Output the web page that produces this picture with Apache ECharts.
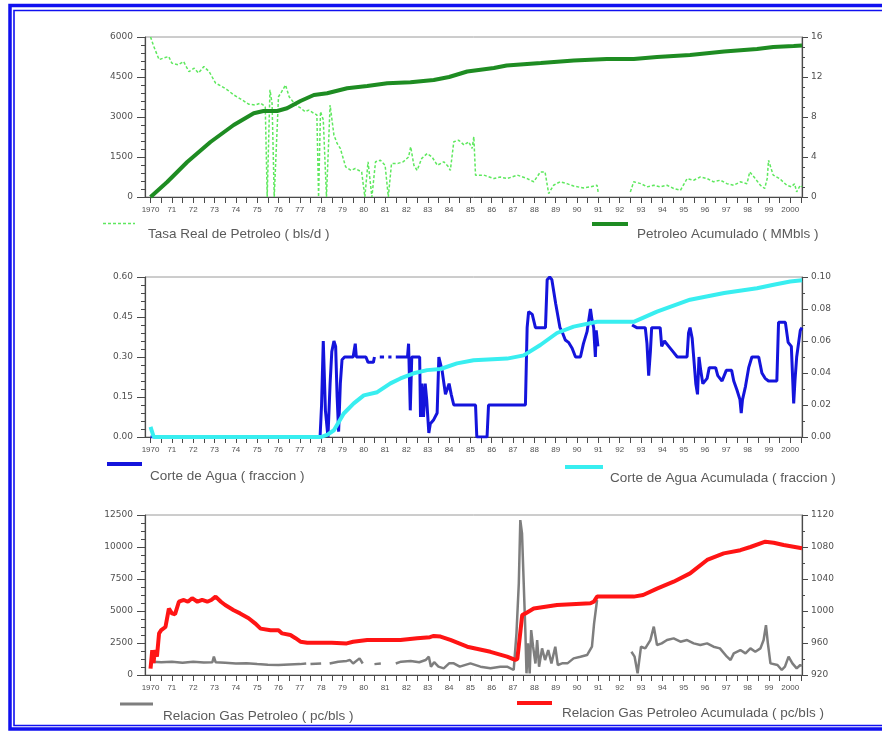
<!DOCTYPE html>
<html>
<head>
<meta charset="utf-8">
<title>Historia de produccion 1970-2000</title>
<script src="https://cdn.jsdelivr.net/npm/echarts@6/dist/echarts.min.js"></script>
<style>
  html, body { margin: 0; padding: 0; background: #fff; }
  #chart { width: 882px; height: 731px; }
</style>
</head>
<body>
<div id="chart"></div>
<script>
// ---- Years on the shared time axis ----
const years = [];
for (let y = 1970; y <= 2000; y++) years.push(y);
const halfYears = [];
for (let y = 1970; y <= 2000.5; y += 0.5) halfYears.push(y);

// ---- Tasa Real de Petroleo (bls/d), left axis of the top panel ----
const tasaReal = [
  [1970.0, 6000], [1970.15, 5650], [1970.4, 5150], [1970.6, 5210], [1970.85, 5270], [1971.0, 5020],
  [1971.3, 4960], [1971.55, 5080], [1971.8, 4700], [1972.05, 4830], [1972.25, 4650], [1972.5, 4890],
  [1972.75, 4700], [1973.05, 4270], [1973.35, 4140], [1973.6, 4020], [1973.9, 3830], [1974.3, 3640],
  [1974.6, 3480], [1974.9, 3450], [1975.15, 3520], [1975.38, 3390], [1975.47, 0], [1975.6, 4020],
  [1975.7, 3500], [1975.8, 0], [1976.0, 3760], [1976.15, 3950], [1976.33, 4200], [1976.5, 3760],
  [1976.8, 3450], [1977.05, 3330], [1977.25, 3200], [1977.42, 3260], [1977.65, 3140], [1977.8, 3080],
  [1977.88, 0], [1977.97, 3200], [1978.1, 2900], [1978.25, 0], [1978.42, 3450], [1978.6, 2320],
  [1978.75, 2010], [1978.9, 1820], [1979.15, 1130], [1979.4, 1000], [1979.6, 1070], [1979.9, 940],
  [1980.05, 0], [1980.2, 1320], [1980.38, 0], [1980.55, 1320], [1980.78, 1380], [1981.0, 1190],
  [1981.15, 0], [1981.3, 1250], [1981.6, 1260], [1981.85, 1320], [1982.1, 1500], [1982.2, 1880],
  [1982.35, 1190], [1982.5, 1000], [1982.72, 1450], [1982.97, 1630], [1983.2, 1500], [1983.45, 1190],
  [1983.75, 1320], [1983.95, 1150], [1984.06, 1000], [1984.22, 2070], [1984.45, 2130], [1984.7, 1950],
  [1984.92, 2070], [1985.08, 1820], [1985.16, 2260], [1985.24, 820], [1985.63, 820], [1986.1, 690],
  [1986.4, 750], [1986.72, 690], [1987.2, 820], [1987.66, 690], [1987.97, 570], [1988.28, 940],
  [1988.5, 940], [1988.67, 130], [1988.9, 440], [1989.2, 570], [1989.53, 500], [1989.84, 410],
  [1990.3, 340], [1990.63, 380], [1990.94, 440], [1991.0, 130], [1991.05, null],
  [1992.5, 190], [1992.66, 570], [1993.0, 500], [1993.28, 380], [1993.6, 440], [1993.9, 380],
  [1994.22, 440], [1994.53, 320], [1994.85, 250], [1995.16, 690], [1995.47, 630], [1995.78, 750],
  [1996.1, 690], [1996.4, 570], [1996.72, 630], [1997.03, 500], [1997.35, 440], [1997.66, 570],
  [1997.97, 500], [1998.1, 940], [1998.3, 750], [1998.6, 440], [1998.8, 320], [1998.92, 700],
  [1998.98, 1380], [1999.2, 820], [1999.5, 690], [1999.84, 440], [2000.05, 380], [2000.2, 500],
  [2000.3, 190], [2000.47, 440], [2000.55, 380]
];

// ---- Petroleo Acumulado (MMbls), right axis of the top panel ----
const petroleoAcum = [
  [1970.0, 0], [1970.78, 1.5], [1971.72, 3.5], [1972.81, 5.5], [1973.9, 7.2], [1974.84, 8.37],
  [1975.3, 8.6], [1975.94, 8.6], [1976.4, 8.87], [1977.03, 9.6], [1977.66, 10.2], [1978.28, 10.38],
  [1979.22, 10.88], [1980.16, 11.1], [1981.1, 11.38], [1982.19, 11.48], [1983.28, 11.7], [1984.0, 12.0],
  [1984.85, 12.55], [1986.1, 12.9], [1986.7, 13.15], [1988.3, 13.4], [1989.85, 13.65], [1991.4, 13.8],
  [1992.66, 13.8], [1993.75, 14.0], [1995.3, 14.2], [1996.9, 14.55], [1998.44, 14.8], [1999.2, 15.0],
  [2000.16, 15.1], [2000.55, 15.15]
];

// ---- Corte de Agua (fraccion), left axis of the middle panel ----
const corteAgua = [
  [1970.0, 0], [1977.95, 0], [1978.02, 0.12], [1978.1, 0.36], [1978.2, 0.1], [1978.32, 0],
  [1978.42, 0.2], [1978.5, 0.32], [1978.6, 0.36], [1978.68, 0.34], [1978.75, 0.15], [1978.82, 0.02],
  [1978.9, 0.2], [1978.98, 0.29], [1979.1, 0.30], [1979.5, 0.30], [1979.6, 0.35], [1979.65, 0.30],
  [1980.1, 0.30], [1980.2, 0.28], [1980.45, 0.28], [1980.5, 0.30], [1980.6, null], [1980.75, 0.30],
  [1980.95, 0.30], [1981.0, null], [1981.15, 0.30], [1981.3, 0.30], [1981.35, null], [1981.5, 0.30],
  [1982.05, 0.30], [1982.1, 0.35], [1982.18, 0.10], [1982.25, 0.30], [1982.62, 0.30], [1982.66, 0.075],
  [1982.72, 0.2], [1982.8, 0.075], [1982.88, 0.2], [1982.95, 0.14], [1983.05, 0.015], [1983.12, 0.05],
  [1983.28, 0.065], [1983.44, 0.09], [1983.52, 0.30], [1983.67, 0.25], [1983.83, 0.16], [1984.0, 0.2],
  [1984.1, 0.16], [1984.22, 0.12], [1985.24, 0.12], [1985.3, 0], [1985.78, 0], [1985.85, 0.12],
  [1987.58, 0.12], [1987.66, 0.41], [1987.73, 0.47], [1987.9, 0.46], [1988.05, 0.41], [1988.52, 0.41],
  [1988.6, 0.59], [1988.72, 0.6], [1988.82, 0.59], [1989.0, 0.50], [1989.2, 0.41], [1989.3, 0.395],
  [1989.45, 0.364], [1989.6, 0.355], [1989.77, 0.333], [1989.93, 0.30], [1990.16, 0.30], [1990.3, 0.35],
  [1990.47, 0.395], [1990.63, 0.48], [1990.7, 0.44], [1990.78, 0.41], [1990.86, 0.30], [1990.9, 0.40],
  [1990.98, 0.34], [1991.0, null],
  [1992.58, 0.42], [1992.8, 0.41], [1993.2, 0.41], [1993.28, 0.35], [1993.36, 0.23], [1993.44, 0.32],
  [1993.5, 0.41], [1993.9, 0.41], [1993.97, 0.34], [1994.1, 0.36], [1994.3, 0.34], [1994.5, 0.32],
  [1994.7, 0.30], [1995.16, 0.30], [1995.23, 0.39], [1995.3, 0.41], [1995.4, 0.37], [1995.47, 0.30],
  [1995.57, 0.20], [1995.65, 0.16], [1995.72, 0.30], [1995.8, 0.25], [1995.9, 0.20], [1996.1, 0.22],
  [1996.2, 0.26], [1996.5, 0.26], [1996.6, 0.23], [1996.8, 0.21], [1997.0, 0.25], [1997.25, 0.25],
  [1997.35, 0.21], [1997.5, 0.176], [1997.64, 0.14], [1997.7, 0.09], [1997.76, 0.14], [1997.9, 0.19],
  [1998.05, 0.26], [1998.2, 0.30], [1998.52, 0.30], [1998.67, 0.24], [1998.82, 0.22], [1998.98, 0.21],
  [1999.37, 0.21], [1999.45, 0.43], [1999.77, 0.43], [1999.9, 0.355], [2000.05, 0.34], [2000.16, 0.126],
  [2000.22, 0.21], [2000.3, 0.30], [2000.47, 0.40], [2000.55, 0.41]
];

// ---- Corte de Agua Acumulada (fraccion), right axis of the middle panel ----
const corteAguaAcum = [
  [1970.0, 0.0063], [1970.15, 0], [1978.0, 0], [1978.3, 0.0015], [1978.6, 0.0042], [1979.06, 0.0147],
  [1979.53, 0.021], [1980.0, 0.026], [1980.63, 0.028], [1981.25, 0.0335], [1981.72, 0.0366],
  [1982.34, 0.0398], [1982.97, 0.0418], [1983.6, 0.0425], [1984.37, 0.046], [1985.15, 0.048],
  [1986.72, 0.049], [1987.5, 0.051], [1988.28, 0.0575], [1989.06, 0.065], [1989.84, 0.069],
  [1990.94, 0.072], [1992.66, 0.072], [1993.75, 0.0784], [1995.3, 0.0858], [1996.9, 0.09],
  [1998.44, 0.093], [1999.22, 0.0952], [2000.0, 0.0972], [2000.55, 0.098]
];

// ---- Relacion Gas Petroleo (pc/bls), left axis of the bottom panel ----
const relGas = [
  [1970.0, 910], [1970.1, 1040], [1970.5, 1000], [1971.0, 1040], [1971.5, 960], [1972.0, 1040],
  [1972.5, 980], [1972.9, 1000], [1972.97, 1430], [1973.05, 1000], [1973.5, 960], [1974.0, 900],
  [1974.5, 920], [1975.0, 850], [1975.5, 800], [1976.0, 780], [1976.5, 820], [1977.0, 850],
  [1977.3, 900], [1977.35, null], [1977.5, 850], [1978.0, 900], [1978.2, null], [1978.4, 900],
  [1978.8, 1040], [1979.2, 1100], [1979.35, 1170], [1979.5, 900], [1979.8, 1300], [1979.95, 900],
  [1980.05, null], [1980.5, 850], [1980.8, 900], [1980.95, null], [1981.5, 900], [1981.75, 1040],
  [1982.2, 1100], [1982.6, 1000], [1982.9, 1170], [1983.05, 1430], [1983.15, 650], [1983.3, 1000],
  [1983.5, 650], [1983.75, 520], [1984.0, 910], [1984.22, 910], [1984.5, 650], [1985.0, 910],
  [1985.47, 650], [1985.94, 520], [1986.4, 650], [1986.72, 650], [1987.03, 390], [1987.16, 3250],
  [1987.27, 7160], [1987.34, 12100], [1987.42, 11070], [1987.5, 7160], [1987.58, 3250], [1987.63, 130],
  [1987.7, 2470], [1987.78, 130], [1987.85, 3510], [1987.94, 2210], [1988.05, 900], [1988.13, 2730],
  [1988.22, 650], [1988.36, 2080], [1988.5, 1170], [1988.65, 1950], [1988.8, 910], [1988.98, 2210],
  [1989.1, 780], [1989.3, 910], [1989.55, 910], [1989.84, 1300], [1990.16, 1430], [1990.47, 1560],
  [1990.7, 2210], [1990.8, 4040], [1990.94, 5860], [1991.0, null],
  [1992.55, 1820], [1992.7, 1430], [1992.84, 130], [1993.0, 2210], [1993.2, 2080], [1993.44, 2730],
  [1993.6, 3780], [1993.75, 2340], [1993.97, 2470], [1994.22, 2730], [1994.53, 2860], [1994.85, 2600],
  [1995.16, 2730], [1995.47, 2470], [1995.78, 2340], [1996.1, 2470], [1996.4, 2210], [1996.7, 2080],
  [1997.03, 1430], [1997.2, 1170], [1997.35, 1690], [1997.66, 1950], [1997.9, 1690], [1998.13, 2080],
  [1998.36, 1820], [1998.6, 2080], [1998.75, 2730], [1998.86, 3900], [1998.95, 2470], [1999.07, 910],
  [1999.4, 780], [1999.6, 390], [1999.75, 650], [1999.92, 1430], [2000.1, 910], [2000.3, 520],
  [2000.47, 780], [2000.55, 700]
];

// ---- Relacion Gas Petroleo Acumulada (pc/bls), right axis of the bottom panel ----
const relGasAcum = [
  [1970.0, 928], [1970.08, 951], [1970.14, 935], [1970.2, 951], [1970.3, 943], [1970.4, 972],
  [1970.5, 976], [1970.7, 980], [1970.86, 1003], [1971.0, 997], [1971.15, 996], [1971.33, 1011.6],
  [1971.56, 1013.8], [1971.75, 1011.6], [1971.95, 1016], [1972.2, 1011.6], [1972.42, 1013.8],
  [1972.66, 1011.6], [1972.85, 1013.8], [1973.05, 1018], [1973.3, 1011.6], [1973.5, 1007.5],
  [1973.9, 1001], [1974.2, 997], [1974.6, 991], [1974.9, 984.6], [1975.16, 978], [1975.63, 976],
  [1976.0, 976], [1976.17, 972], [1976.56, 970], [1976.8, 966], [1977.03, 961.6], [1977.35, 960.4],
  [1978.5, 960.4], [1979.2, 959.5], [1979.5, 961.6], [1980.16, 963.8], [1981.72, 963.8], [1982.5, 966],
  [1983.1, 967.3], [1983.28, 968.8], [1983.6, 968], [1984.06, 963.8], [1984.85, 955.4], [1985.94, 949],
  [1986.72, 943], [1987.1, 938.8], [1987.2, 940], [1987.43, 995], [1987.58, 997], [1987.97, 1003],
  [1989.06, 1007.5], [1990.63, 1009.6], [1990.8, 1012], [1990.94, 1018], [1992.66, 1018], [1993.1, 1020],
  [1993.75, 1028], [1994.53, 1036.6], [1995.3, 1047], [1996.1, 1063.8], [1996.88, 1072], [1997.66, 1076],
  [1998.13, 1080], [1998.83, 1086.6], [1999.22, 1085.4], [1999.69, 1082.5], [2000.55, 1078.4]
];

// ---- Axis ranges and tick steps ----
const xMin = 1969.74, xMax = 2000.55;
const topLeft = { min: 0, max: 6000, step: 1500 };
const topRight = { min: 0, max: 16, step: 4 };
const midLeft = { min: 0, max: 0.6, step: 0.15 };
const midRight = { min: 0, max: 0.1, step: 0.02 };
const botLeft = { min: 0, max: 12500, step: 2500 };
const botRight = { min: 920, max: 1120, step: 40 };

// ---- Look ----
const AXIS = '#4a4a4a';
const LABEL = '#505050';
const FRAME = '#9a9a9a';
const LEGEND_TXT = '#5a5a5a';
const BLUE_FRAME = '#1010f0';
const LIGHT_GREEN = '#5ee85e';

const chart = echarts.init(document.getElementById('chart'), null, { renderer: 'canvas' });

const yearLabel = v => {
  const y = Math.round(v);
  if (y === 1970 || y === 2000) return String(y);
  return String(y % 100).padStart(2, '0');
};

function xAxisFor(gridIndex) {
  return {
    type: 'value', gridIndex, min: xMin, max: xMax,
    axisLine: { show: true, onZero: false, lineStyle: { color: AXIS, width: 1 } },
    axisTick: { show: true, customValues: halfYears, length: 6, lineStyle: { color: AXIS } },
    axisLabel: {
      show: true, customValues: years, formatter: yearLabel, margin: 9,
      fontSize: 8, color: LABEL, fontFamily: 'Liberation Sans Narrow, Liberation Sans, Arial'
    },
    splitLine: { show: false }
  };
}

function yAxisFor(gridIndex, r, position, minorSplit, fmt) {
  const left = position === 'left';
  return {
    type: 'value', gridIndex, position, min: r.min, max: r.max, interval: r.step,
    axisLine: { show: true, lineStyle: { color: AXIS, width: 1.2 } },
    axisTick: { show: true, length: left ? 8 : 6, lineStyle: { color: AXIS } },
    minorTick: { show: true, splitNumber: minorSplit, length: left ? 4 : 3, lineStyle: { color: AXIS } },
    axisLabel: {
      show: true, margin: left ? 12 : 9, fontSize: 9, color: LABEL, fontFamily: 'DejaVu Sans',
      formatter: fmt
    },
    splitLine: { show: false }, minorSplitLine: { show: false }
  };
}

const gridBase = { left: 145, right: 80, height: 160, show: true, borderColor: FRAME, borderWidth: 1, backgroundColor: 'transparent' };

// Legend samples and captions
function legendLine(x1, x2, y, color, width, dash) {
  return { type: 'line', shape: { x1, y1: y, x2, y2: y },
    style: { stroke: color, lineWidth: width, lineDash: dash || null } };
}
function legendText(x, y, text) {
  return { type: 'text', x, y, style: { text, fill: LEGEND_TXT, fontSize: 13.5,
    fontFamily: 'Liberation Sans, Arial', textVerticalAlign: 'middle' } };
}

const option = {
  animation: false,
  backgroundColor: '#ffffff',
  grid: [
    Object.assign({ top: 37 }, gridBase),
    Object.assign({ top: 277 }, gridBase),
    Object.assign({ top: 515 }, gridBase)
  ],
  xAxis: [xAxisFor(0), xAxisFor(1), xAxisFor(2)],
  yAxis: [
    yAxisFor(0, topLeft, 'left', 5, v => String(v)),
    yAxisFor(0, topRight, 'right', 4, v => String(v)),
    yAxisFor(1, midLeft, 'left', 5, v => v.toFixed(2)),
    yAxisFor(1, midRight, 'right', 2, v => v.toFixed(2)),
    yAxisFor(2, botLeft, 'left', 4, v => String(v)),
    yAxisFor(2, botRight, 'right', 2, v => String(v))
  ],
  series: [
    { name: 'Tasa Real de Petroleo ( bls/d )', type: 'line', xAxisIndex: 0, yAxisIndex: 0,
      data: tasaReal, showSymbol: false, connectNulls: false, z: 2,
      lineStyle: { color: LIGHT_GREEN, width: 1.5, type: [3, 2] } },
    { name: 'Petroleo Acumulado ( MMbls )', type: 'line', xAxisIndex: 0, yAxisIndex: 1,
      data: petroleoAcum, showSymbol: false, z: 3,
      lineStyle: { color: '#1e8c22', width: 4 } },
    { name: 'Corte de Agua ( fraccion )', type: 'line', xAxisIndex: 1, yAxisIndex: 2,
      data: corteAgua, showSymbol: false, connectNulls: false, z: 2,
      lineStyle: { color: '#1414dc', width: 3 } },
    { name: 'Corte de Agua Acumulada ( fraccion )', type: 'line', xAxisIndex: 1, yAxisIndex: 3,
      data: corteAguaAcum, showSymbol: false, z: 3,
      lineStyle: { color: '#38eef0', width: 4 } },
    { name: 'Relacion Gas Petroleo ( pc/bls )', type: 'line', xAxisIndex: 2, yAxisIndex: 4,
      data: relGas, showSymbol: false, connectNulls: false, z: 2,
      lineStyle: { color: '#7e7e7e', width: 2.5 } },
    { name: 'Relacion Gas Petroleo Acumulada ( pc/bls )', type: 'line', xAxisIndex: 2, yAxisIndex: 5,
      data: relGasAcum, showSymbol: false, z: 3,
      lineStyle: { color: '#ff1414', width: 4 } }
  ],
  graphic: [
    // double blue page frame
    { type: 'polyline', shape: { points: [[890, 5.5], [10, 5.5], [10, 729], [890, 729]] },
      style: { stroke: BLUE_FRAME, lineWidth: 3.5, fill: null } },
    { type: 'polyline', shape: { points: [[890, 10.5], [14, 10.5], [14, 725.5], [890, 725.5]] },
      style: { stroke: BLUE_FRAME, lineWidth: 1.6, fill: null } },
    // legends
    legendLine(103, 135, 223.5, LIGHT_GREEN, 1.6, [3, 2]),
    legendText(148, 234, 'Tasa Real de Petroleo ( bls/d )'),
    legendLine(592, 628, 224, '#1e8c22', 4),
    legendText(637, 234, 'Petroleo Acumulado ( MMbls )'),
    legendLine(107, 142, 464, '#1414dc', 4),
    legendText(150, 476, 'Corte de Agua ( fraccion )'),
    legendLine(565, 603, 467, '#38eef0', 4),
    legendText(610, 478, 'Corte de Agua Acumulada ( fraccion )'),
    legendLine(120, 153, 704, '#7e7e7e', 3),
    legendText(163, 716, 'Relacion Gas Petroleo ( pc/bls )'),
    legendLine(517, 552, 703, '#ff1414', 4),
    legendText(562, 713, 'Relacion Gas Petroleo Acumulada ( pc/bls )')
  ]
};

chart.setOption(option);
</script>
</body>
</html>
